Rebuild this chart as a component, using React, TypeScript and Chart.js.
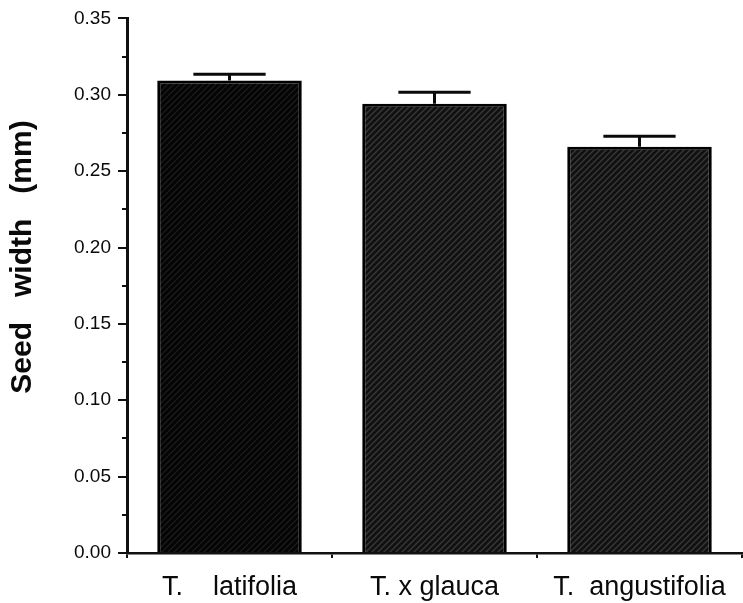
import React, { useEffect, useRef } from 'react';
import { Chart, registerables } from 'chart.js';

Chart.register(...registerables);

// ---- data ----
const categories = ['T.    latifolia', 'T. x glauca', 'T.  angustifolia'];
const seedWidth = [0.3093, 0.2941, 0.2659];
const seError = [0.0041, 0.0076, 0.007];
const yMin = 0;
const yMax = 0.35;
const yMajorStep = 0.05;
const yMinorTicks = [0.025, 0.075, 0.125, 0.175, 0.225, 0.275, 0.325];
const yTitle = 'Seed   width   (mm)';

const FONT = 'Liberation Sans, Arial, Helvetica, sans-serif';

function makeHatch(base: string, line: string, size: number): CanvasPattern | string {
  const c = document.createElement('canvas');
  c.width = size;
  c.height = size;
  const ctx = c.getContext('2d');
  if (!ctx) return base;
  ctx.fillStyle = base;
  ctx.fillRect(0, 0, size, size);
  ctx.strokeStyle = line;
  ctx.lineWidth = 1.3;
  ctx.beginPath();
  ctx.moveTo(0, size);
  ctx.lineTo(size, 0);
  ctx.moveTo(-size, size);
  ctx.lineTo(size, -size);
  ctx.moveTo(0, 2 * size);
  ctx.lineTo(2 * size, 0);
  ctx.stroke();
  const p = ctx.createPattern(c, 'repeat');
  return p || base;
}

const errorBarPlugin = {
  id: 'errorBars',
  afterDatasetsDraw(chart: any) {
    const ctx = chart.ctx;
    const meta = chart.getDatasetMeta(0);
    const ys = chart.scales.y;
    ctx.save();
    ctx.strokeStyle = '#0a0a0a';
    ctx.lineWidth = 3;
    meta.data.forEach((bar: any, i: number) => {
      const top = ys.getPixelForValue(seedWidth[i] + seError[i]);
      const base = bar.y;
      const half = bar.width / 4;
      ctx.beginPath();
      ctx.moveTo(bar.x, base);
      ctx.lineTo(bar.x, top);
      ctx.moveTo(bar.x - half, top);
      ctx.lineTo(bar.x + half, top);
      ctx.stroke();
    });
    ctx.restore();
  },
};

const minorTickPlugin = {
  id: 'minorTicks',
  afterDraw(chart: any) {
    const ctx = chart.ctx;
    const ys = chart.scales.y;
    const x0 = chart.chartArea.left;
    ctx.save();
    ctx.strokeStyle = '#111';
    ctx.lineWidth = 2;
    yMinorTicks.forEach((v) => {
      const py = Math.round(ys.getPixelForValue(v));
      ctx.beginPath();
      ctx.moveTo(x0 - 5, py);
      ctx.lineTo(x0, py);
      ctx.stroke();
    });
    ctx.restore();
  },
};

const yTitlePlugin = {
  id: 'yTitleText',
  afterDraw(chart: any) {
    const ctx = chart.ctx;
    ctx.save();
    ctx.translate(23, 257);
    ctx.rotate(-Math.PI / 2);
    ctx.font = `bold 30px ${FONT}`;
    ctx.fillStyle = '#0a0a0a';
    ctx.textAlign = 'center';
    ctx.textBaseline = 'middle';
    ctx.fillText(yTitle, 0, 0);
    ctx.restore();
  },
};

export default function App() {
  const canvasRef = useRef<HTMLCanvasElement | null>(null);

  useEffect(() => {
    const canvas = canvasRef.current;
    if (!canvas) return;
    const fills = [
      makeHatch('#040404', '#1c1c1c', 6),
      makeHatch('#111111', '#3a3a3a', 6),
      makeHatch('#111111', '#3a3a3a', 6),
    ];
    const chart = new Chart(canvas, {
      type: 'bar',
      data: {
        labels: categories,
        datasets: [
          {
            data: seedWidth,
            backgroundColor: fills as any,
            borderColor: '#000',
            borderWidth: 3,
            barPercentage: 0.705,
            categoryPercentage: 1,
          },
        ],
      },
      options: {
        responsive: false,
        animation: false,
        layout: { padding: { top: 15, right: 1, left: 0, bottom: 0 } },
        plugins: {
          legend: { display: false },
          tooltip: { enabled: false },
          title: { display: false },
        },
        scales: {
          x: {
            offset: true,
            grid: {
              offset: true,
              drawOnChartArea: false,
              drawTicks: true,
              tickLength: 5,
              color: '#111',
              lineWidth: 2,
            },
            border: { color: '#111', width: 2.5 },
            ticks: {
              color: '#0a0a0a',
              font: { family: FONT, size: 27 },
              padding: 13,
              maxRotation: 0,
              autoSkip: false,
            },
            afterFit(scale: any) {
              scale.height = 50;
            },
          },
          y: {
            min: yMin,
            max: yMax,
            grid: {
              drawOnChartArea: false,
              drawTicks: true,
              tickLength: 9,
              color: '#111',
              lineWidth: 2,
            },
            border: { color: '#111', width: 3 },
            ticks: {
              stepSize: yMajorStep,
              color: '#0a0a0a',
              font: { family: FONT, size: 19 },
              padding: 7,
              callback: (v: any) => Number(v).toFixed(2),
            },
            afterFit(scale: any) {
              scale.width = 127;
            },
          },
        },
      },
      plugins: [errorBarPlugin, minorTickPlugin, yTitlePlugin],
    });
    return () => chart.destroy();
  }, []);

  return (
    <div style={{ position: 'absolute', left: 0, top: 0, width: 743, height: 603, background: '#fff' }}>
      <canvas ref={canvasRef} width={743} height={603} />
    </div>
  );
}
